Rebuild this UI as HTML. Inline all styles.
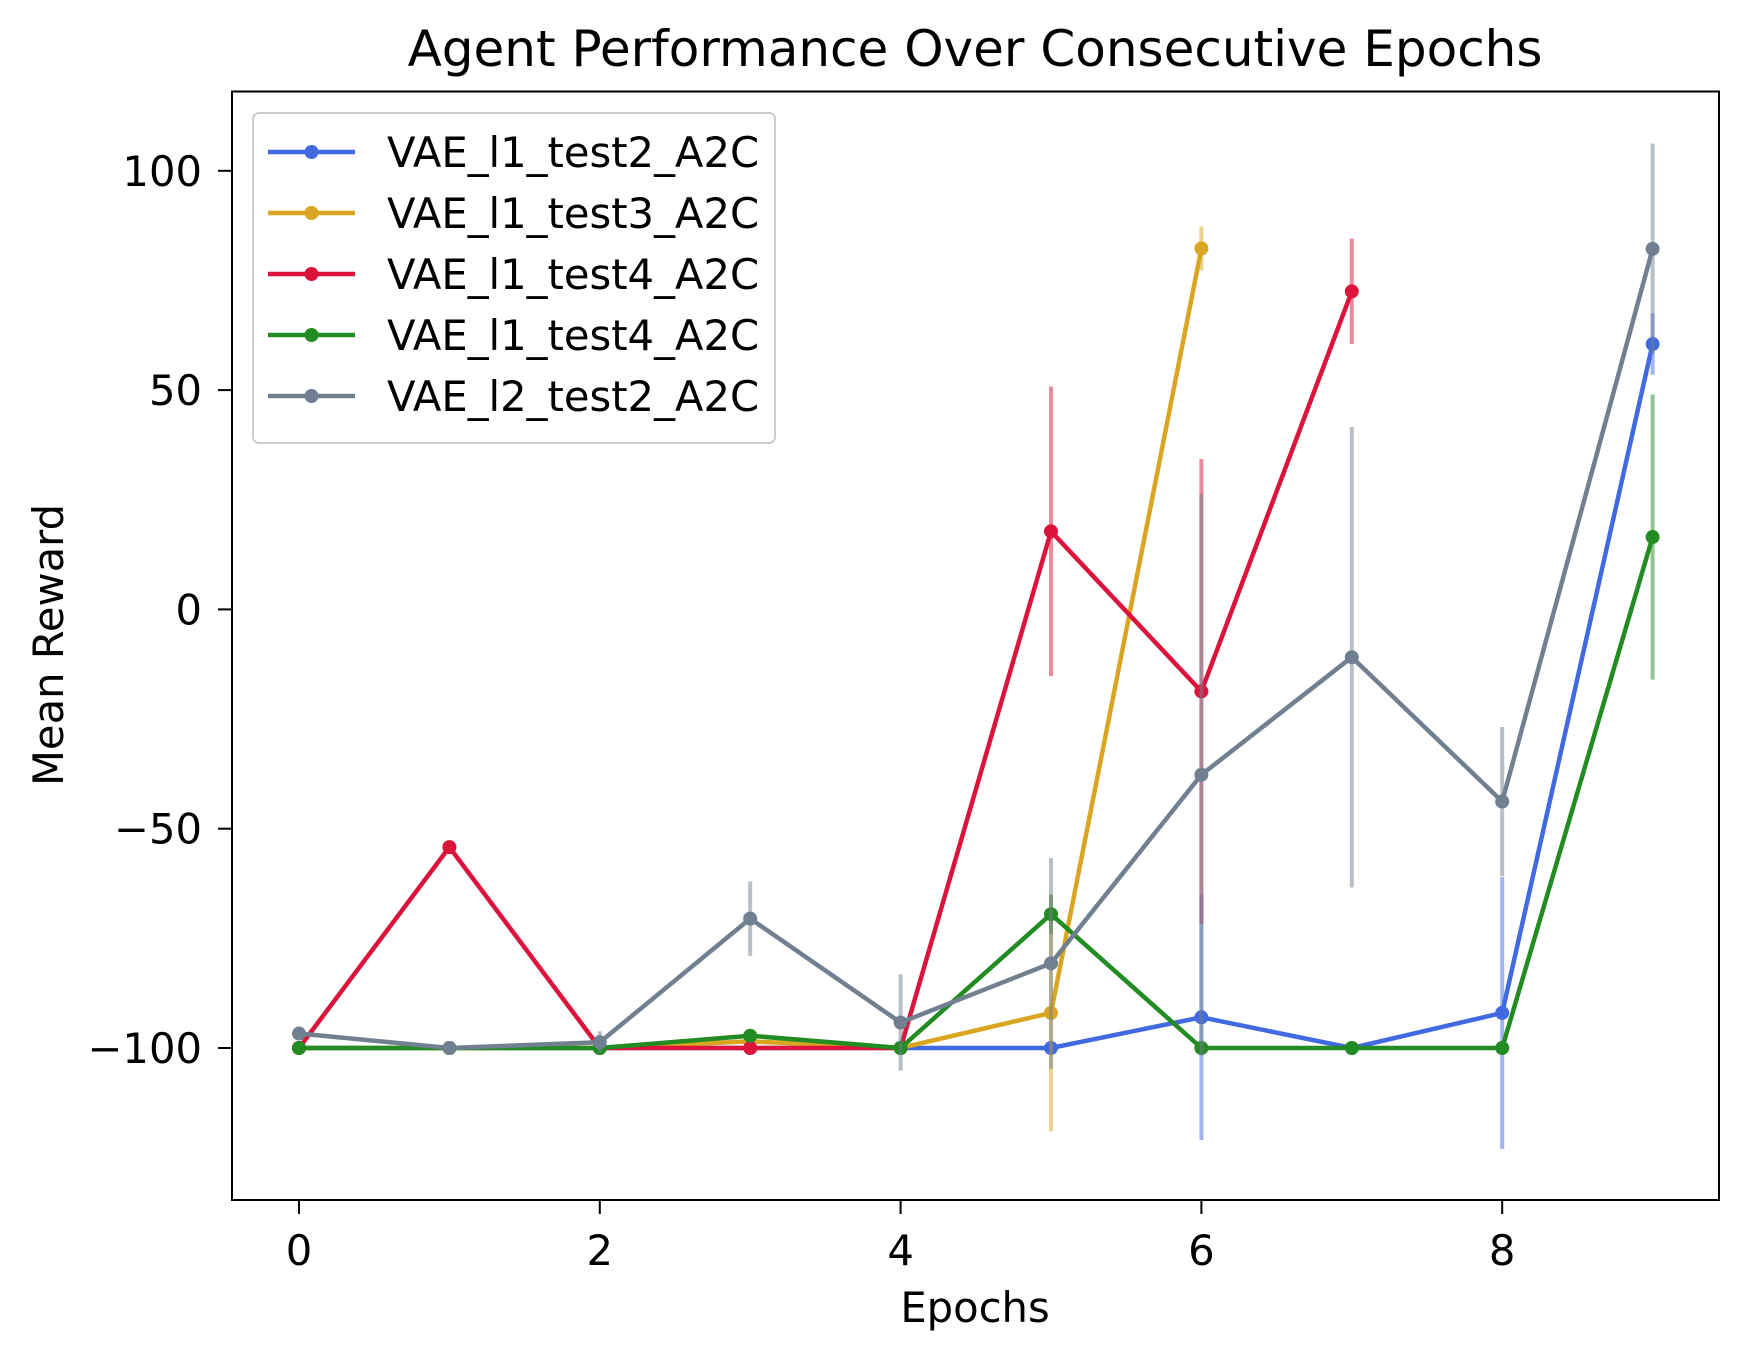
<!DOCTYPE html>
<html><head><meta charset="utf-8"><style>
html,body{margin:0;padding:0;background:#fff}
svg{display:block;font-family:"DejaVu Sans","Liberation Sans",sans-serif}
</style></head><body>
<svg id="chart" width="1750" height="1361" viewBox="0 0 1750 1361" xmlns="http://www.w3.org/2000/svg">
<rect width="1750" height="1361" fill="#fff"/>
<text x="975" y="66" font-size="50" text-anchor="middle">Agent Performance Over Consecutive Epochs</text>
<text x="975" y="1322" font-size="41.7" text-anchor="middle">Epochs</text>
<text transform="translate(63,645) rotate(-90)" font-size="41.7" text-anchor="middle">Mean Reward</text>
<g id="plot"></g>
<rect x="232" y="91.5" width="1487" height="1108.5" fill="none" stroke="#000" stroke-width="2"/>
<g id="legend"></g>
</svg>
<script>
const seriesNames = ["VAE_l1_test2_A2C","VAE_l1_test3_A2C","VAE_l1_test4_A2C","VAE_l1_test4_A2C","VAE_l2_test2_A2C"];
const seriesColors = ["#4169e1","#daa520","#dc143c","#228b22","#708090"];
const epochs = [0,1,2,3,4,5,6,7,8,9];
const blueVals = [-100,-100,-100,-100,-100,-100,-93,-100,-92,60.5];
const blueErr = [0,0,0,0,0,0,28,0,31,7];
const orangeVals = [-100,-100,-100,-98.5,-100,-92,82.3];
const orangeErr = [0,0,0,0,0,27,5];
const redVals = [-100,-54.2,-100,-100,-100,17.8,-18.7,72.5];
const redErr = [0,0,0,0,0,33,53,12];
const greenVals = [-100,-100,-100,-97.2,-100,-69.5,-100,-100,-100,16.5];
const greenErr = [0,0,0,0,0,4.5,0,0,0,32.5];
const grayVals = [-96.7,-100,-98.7,-70.5,-94.2,-80.7,-37.7,-10.9,-43.8,82.2];
const grayErr = [0,0,2.5,8.5,11,24,64,52.5,17,24];
const xTicks = [0,2,4,6,8];
const yTicks = [-100,-50,0,50,100];

const NS="http://www.w3.org/2000/svg";
const X0=299, XS=150.4, Y100=170.8, YS=4.386;
function xs(v){return X0+v*XS;}
function ys(v){return Y100+(100-v)*YS;}
function mk(tag,attrs,parent){const e=document.createElementNS(NS,tag);for(const k in attrs)e.setAttribute(k,attrs[k]);parent.appendChild(e);return e;}
const svg=document.getElementById('chart');
const plot=document.getElementById('plot');
xTicks.forEach(t=>{
  const l=mk('line',{x1:xs(t),x2:xs(t),y1:1200,y2:1214,stroke:'#000','stroke-width':2},svg);
  
  
  const tx=mk('text',{x:xs(t),y:1265,'font-size':41.7,'text-anchor':'middle'},svg);
  tx.textContent=String(t);
  
  
});
yTicks.forEach(t=>{
  const l=mk('line',{x1:218,x2:232,y1:ys(t),y2:ys(t),stroke:'#000','stroke-width':2},svg);
  
  
  const tx=mk('text',{x:202,y:ys(t)+15,'font-size':41.7,'text-anchor':'end'},svg);
  tx.textContent=(t<0?'\u2212':'')+Math.abs(t);
  
  
});
const allVals=[blueVals,orangeVals,redVals,greenVals,grayVals];
const allErr=[blueErr,orangeErr,redErr,greenErr,grayErr];
allVals.forEach((vals,si)=>{
  const c=seriesColors[si];
  const g=mk('g',{},plot);
  
  
  vals.forEach((v,i)=>{
    const e=allErr[si][i]; if(!e) return;
    const b=mk('line',{x1:xs(epochs[i]),x2:xs(epochs[i]),y1:ys(v-e),y2:ys(v+e),stroke:c,'stroke-opacity':0.5,'stroke-width':4},g);
    
    
  });
  const pts=vals.map((v,i)=>xs(epochs[i])+','+ys(v)).join(' ');
  const pl=mk('polyline',{points:pts,fill:'none',stroke:c,'stroke-width':4.5,'stroke-linejoin':'round'},g);
  
  
  vals.forEach((v,i)=>{
    const p=mk('circle',{cx:xs(epochs[i]),cy:ys(v),r:7,fill:c},g);
    
    
  });
});
const leg=document.getElementById('legend');
const box=mk('rect',{x:253,y:113,width:522,height:330,rx:6,fill:'#fff','fill-opacity':0.8,stroke:'#ccc','stroke-width':2},leg);


seriesNames.forEach((n,i)=>{
  const y=152+i*61;
  const g=mk('g',{},leg);
  
  
  mk('line',{x1:268,x2:355,y1:y,y2:y,stroke:seriesColors[i],'stroke-width':4.5},g);
  mk('circle',{cx:311.5,cy:y,r:7,fill:seriesColors[i]},g);
  const t=mk('text',{x:387,y:y+15,'font-size':41.7},g);
  t.textContent=n;
});
</script>
</body></html>
